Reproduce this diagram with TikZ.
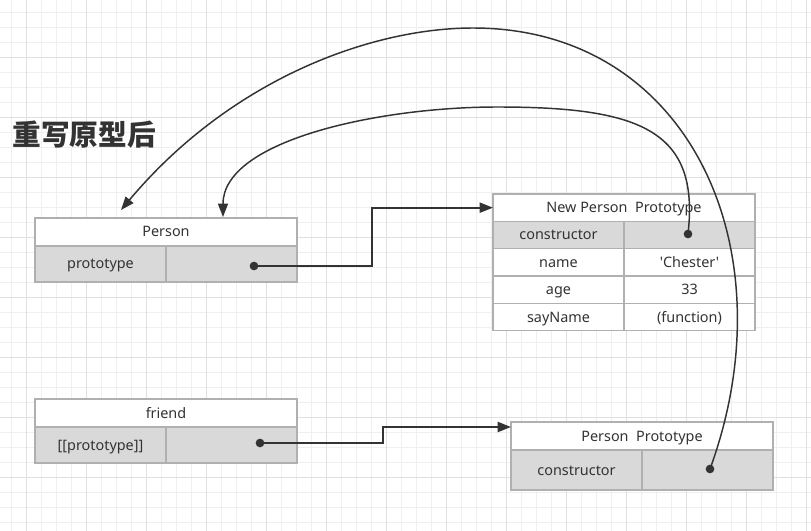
\documentclass[tikz,border=0pt]{standalone}
\usepackage{fontspec}
\setmainfont{Noto Sans}[Ligatures=TeXOff]
\newfontfamily\cjkfont{Noto Sans CJK SC}
\usetikzlibrary{arrows.meta,positioning}

\definecolor{gridminor}{HTML}{EFEFEF}
\definecolor{gridmajor}{HTML}{E0E0E0}
\definecolor{cellline}{HTML}{B0B0B0}
\definecolor{cellfill}{HTML}{D9D9D9}
\definecolor{ink}{HTML}{333333}

\tikzset{
    cell/.style={draw=cellline, line width=1.2pt, outer sep=0pt, inner sep=0pt,
        anchor=north west, text=ink, font=\fontsize{10.8}{12}\selectfont,
        text height=9.5pt, text depth=2pt},
    head/.style={cell, fill=white, minimum width=196.5pt, minimum height=21pt},
    key/.style={cell, fill=cellfill, minimum width=98.25pt, minimum height=27pt},
    keyw/.style={cell, fill=white, minimum width=98.25pt, minimum height=20.5pt},
    dot/.style={circle, fill=ink, inner sep=0pt, minimum size=6.5pt},
    link/.style={draw=ink, line width=1.5pt, -{Triangle[length=10pt,width=7.5pt]}},
    curve/.style={draw=ink, line width=1.1pt, -{Triangle[length=10pt,width=7.5pt]}},
    title/.style={text=ink, font=\cjkfont\bfseries\fontsize{21.5}{24}\selectfont}
}

\begin{document}
\begin{tikzpicture}[x=0.75pt, y=-0.75pt]
    \useasboundingbox (0,0) rectangle (811,531);
    \fill [white] (0,0) rectangle (811,531);
    % grid
    \foreach \x in {11.7,26.7,...,811} \draw [gridminor, line width=0.6pt] (\x,0) -- (\x,531);
    \foreach \y in {12.7,27.7,...,531} \draw [gridminor, line width=0.6pt] (0,\y) -- (811,\y);
    \foreach \x in {26.7,86.7,...,811} \draw [gridmajor, line width=0.6pt] (\x,0) -- (\x,531);
    \foreach \y in {57.7,117.7,...,531} \draw [gridmajor, line width=0.6pt] (0,\y) -- (811,\y);

    \node [title] (title) at (84,135) {重写原型后};

    % Person
    \node [head] (person) at (35,218) {Person};
    \node [key] (personk) at (person.south west) {prototype};
    \node [key] (personv) at (personk.north east) {};
    \node [dot] (persondot) at (254,266) {};

    % friend
    \node [head] (friend) at (35,399) {friend};
    \node [key] (friendk) at (friend.south west) {[[prototype]]};
    \node [key] (friendv) at (friendk.north east) {};
    \node [dot] (frienddot) at (260,443) {};

    % New Person Prototype
    \node [head, minimum height=20.5pt] (np) at (493,194) {New Person\ \ Prototype};
    \node [key, minimum height=20.5pt] (npc) at (np.south west) {constructor};
    \node [key, minimum height=20.5pt] (npcv) at (npc.north east) {};
    \node [keyw] (npn) at (npc.south west) {name};
    \node [keyw] (npnv) at (npn.north east) {'Chester'};
    \node [keyw] (npa) at (npn.south west) {age};
    \node [keyw] (npav) at (npa.north east) {33};
    \node [keyw] (nps) at (npa.south west) {sayName};
    \node [keyw] (npsv) at (nps.north east) {(function)};
    \node [dot] (npdot) at (688,234) {};

    % Person Prototype
    \node [head] (pp) at (511,422) {Person\ \ Prototype};
    \node [key, minimum height=30pt] (ppc) at (pp.south west) {constructor};
    \node [key, minimum height=30pt] (ppcv) at (ppc.north east) {};
    \node [dot] (ppdot) at (710,469) {};

    % arrow ends above Person
    \coordinate (tipA) at (121,210);
    \coordinate (tipB) at (223,217);

    \draw [link] (persondot.center) -- ++(117.5,0) |- (np.west);
    \draw [link] (frienddot.center) -- ++(123,0) |- ([yshift=6.75pt]pp.west);
    \draw [curve] (ppdot.center) .. controls (790,250) and (690,28) .. (473,28)
        .. controls (370,28) and (230,80) .. (tipA);
    \draw [curve] (npdot.center) .. controls (700,130) and (640,107) .. (497,107)
        .. controls (380,107) and (223,140) .. (tipB);
\end{tikzpicture}
\end{document}
